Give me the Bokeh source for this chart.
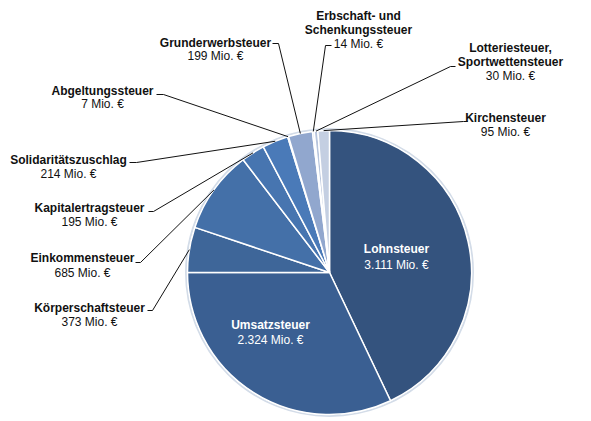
import numpy as np
from bokeh.plotting import figure
from bokeh.models import ColumnDataSource, Range1d
from bokeh.core.properties import value
from bokeh.embed import file_html
from bokeh.resources import INLINE

# ---------------- data ----------------
categories = ["Lohnsteuer", "Umsatzsteuer", "Körperschaftsteuer", "Einkommensteuer",
              "Kapitalertragsteuer", "Solidaritätszuschlag", "Abgeltungssteuer",
              "Grunderwerbsteuer", "Erbschaft- und Schenkungssteuer",
              "Lotteriesteuer, Sportwettensteuer", "Kirchensteuer"]
values = [3111, 2324, 373, 685, 195, 214, 7, 199, 14, 30, 95]
value_labels = ["3.111 Mio. €", "2.324 Mio. €", "373 Mio. €", "685 Mio. €", "195 Mio. €",
                "214 Mio. €", "7 Mio. €", "199 Mio. €", "14 Mio. €", "30 Mio. €", "95 Mio. €"]
name_lines = [["Lohnsteuer"], ["Umsatzsteuer"], ["Körperschaftsteuer"], ["Einkommensteuer"],
              ["Kapitalertragsteuer"], ["Solidaritätszuschlag"], ["Abgeltungssteuer"],
              ["Grunderwerbsteuer"], ["Erbschaft- und", "Schenkungssteuer"],
              ["Lotteriesteuer,", "Sportwettensteuer"], ["Kirchensteuer"]]
colors = ["#34537E", "#3A5F92", "#3E6699", "#4470A8", "#4775B0", "#4A7AB8",
          "#7F9ACB", "#91A7CE", "#A7B8D6", "#B6C4DC", "#C4CFE2"]

# ---------------- layout (reference page pixels) ----------------
W, H = 591, 421
def P(x, y):
    return x, H - y

CX, CY = P(329, 272)
R = 142

# label: (center x, first line y, line spacing, inside?, leader polyline start points)
label_layout = [
    (396, 248, 16, True, None),
    (270, 324, 15, True, None),
    (89, 307, 14, False, [(147, 310), (152, 310)]),
    (82, 257, 15, False, [(135, 262), (140, 262)]),
    (89, 207, 14, False, [(148, 211), (153, 211)]),
    (68, 159, 14, False, [(129, 162), (136, 162)]),
    (102, 90, 13.5, False, [(156, 94), (163, 94)]),
    (215, 42, 13.5, False, [(272, 43), (278, 43)]),
    (358, 15, 14, False, [(331, 45), (325, 45)]),
    (510, 47, 14, False, [(455, 66), (450, 66)]),
    (505, 117, 14, False, [(467, 121), (463, 121)]),
]

# ---------------- geometry from data ----------------
vals = np.array(values, dtype=float)
frac = vals / vals.sum()
cum = np.concatenate([[0.0], np.cumsum(frac)])
start = np.pi / 2 - 2 * np.pi * cum[:-1]
end = np.pi / 2 - 2 * np.pi * cum[1:]
mid = (start + end) / 2

src = ColumnDataSource(dict(cat=categories, start=start, end=end, color=colors))

p = figure(width=W, height=H, output_backend="svg", toolbar_location=None,
           x_range=Range1d(0, W), y_range=Range1d(0, H), min_border=0,
           match_aspect=False)
p.axis.visible = False
p.grid.visible = False
p.outline_line_color = None
p.background_fill_color = "white"
p.border_fill_color = "white"

# subtle halo
p.circle(x=[CX], y=[CY], radius=R + 1.5, fill_color=None, line_color="#D3DCE8", line_width=2)
p.wedge(x=CX, y=CY, radius=R, start_angle="start", end_angle="end", direction="clock",
        fill_color="color", line_color="white", line_width=1.5, source=src)

# leader lines
xs, ys = [], []
for i, lay in enumerate(label_layout):
    pts = lay[4]
    if pts is None:
        continue
    px = CX + R * np.cos(mid[i])
    py = CY + R * np.sin(mid[i])
    a = P(*pts[0]); b = P(*pts[1])
    xs.append([a[0], b[0], px]); ys.append([a[1], b[1], py])
p.multi_line(xs=xs, ys=ys, line_color="#111111", line_width=1)

# texts
bx, by, bt, bc = [], [], [], []
nx, ny, nt, nc = [], [], [], []
for i, (lx, ly, sp, inside, _) in enumerate(label_layout):
    col = "white" if inside else "#111111"
    y = ly
    for ln in name_lines[i]:
        x0, y0 = P(lx, y)
        bx.append(x0); by.append(y0); bt.append(ln); bc.append(col)
        y += sp
    x0, y0 = P(lx, y)
    nx.append(x0); ny.append(y0); nt.append(value_labels[i]); nc.append(col)

p.text(x=bx, y=by, text=bt, text_color=bc, text_font=value("Liberation Sans"),
       text_font_style="bold", text_font_size="12px", text_align="center",
       text_baseline="middle")
p.text(x=nx, y=ny, text=nt, text_color=nc, text_font=value("Liberation Sans"),
       text_font_size="12px", text_align="center", text_baseline="middle")

open("out.html", "w").write(file_html(p, INLINE))
